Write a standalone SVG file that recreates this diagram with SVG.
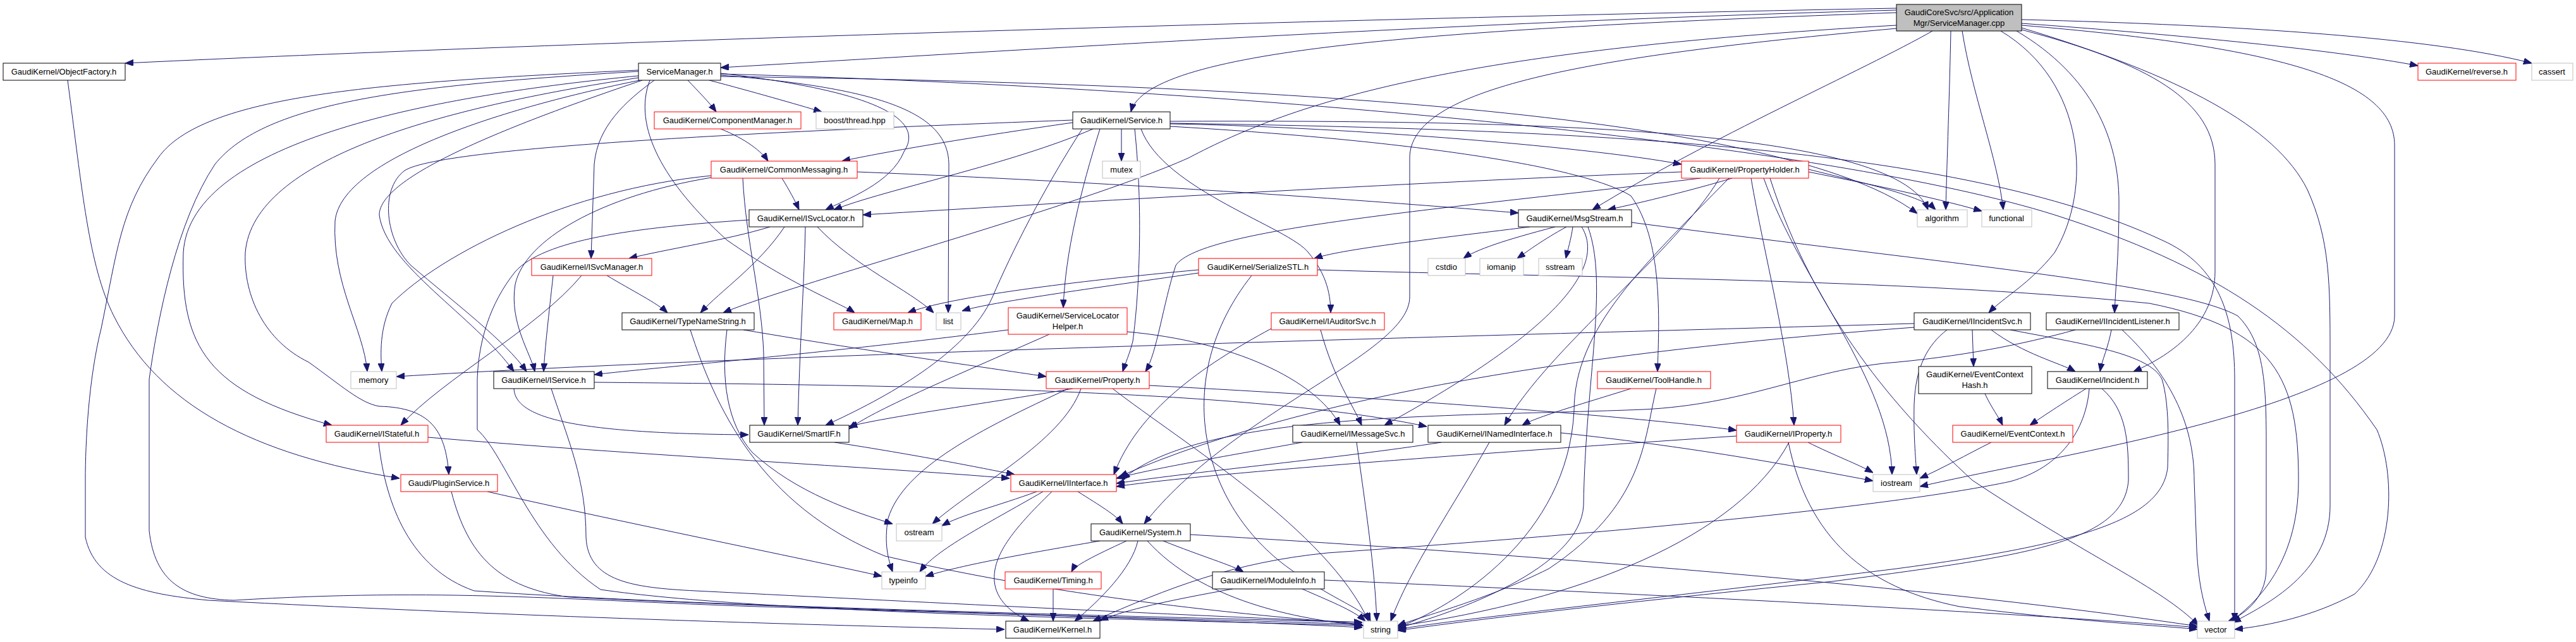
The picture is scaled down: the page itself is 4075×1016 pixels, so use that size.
<svg xmlns="http://www.w3.org/2000/svg" width="4075" height="1016" viewBox="0 0 4075 1016">
<style>
.e{fill:none;stroke:#191970;stroke-width:1;marker-end:url(#a)}
.b rect{fill:#fff;stroke:#000;stroke-width:1}
.r rect{fill:#fff;stroke:#ff0000;stroke-width:1}
.g rect{fill:#fff;stroke:#bfbfbf;stroke-width:1}
.m rect{fill:#bfbfbf;stroke:#000;stroke-width:1}
text{font-family:"Liberation Sans",Arial,sans-serif;font-size:13px;fill:#000;text-anchor:middle}
</style>
<defs>
<marker id="a" viewBox="0 0 13 10" refX="13" refY="5" markerWidth="13" markerHeight="10" markerUnits="userSpaceOnUse" orient="auto"><path d="M0,0 L13,5 L0,10 z" fill="#191970" stroke="#191970"/></marker>
</defs>
<rect width="4075" height="1016" fill="#fff"/>
<g id="edges">
<path class="e" d="M3000,13 C2200,28 1000,62 198,100"/>
<path class="e" d="M3000,16 C2300,35 1600,80 1140,107"/>
<path class="e" d="M3000,20 C2300,45 1815,75 1789,177"/>
<path class="e" d="M3057,49 C2950,110 2700,220 2519,332"/>
<path class="e" d="M3086,49 C3084,150 3080,250 3078,332"/>
<path class="e" d="M3104,49 C3120,150 3160,250 3169,332"/>
<path class="e" d="M3198,37 C3450,55 3700,80 3825,104"/>
<path class="e" d="M3198,31 C3550,40 3850,60 4005,100"/>
<path class="e" d="M3165,49 C3300,130 3310,300 3250,400 C3210,450 3170,470 3146,495"/>
<path class="e" d="M3190,49 C3310,120 3352,220 3352,320 C3352,400 3347,450 3345,495"/>
<path class="e" d="M3198,47 C3400,100 3504,160 3504,260 L3504,430 C3504,510 3440,560 3375,588"/>
<path class="e" d="M3198,40 C3620,75 3788,130 3788,230 L3788,500 C3788,640 3250,720 3037,770"/>
<path class="e" d="M3198,44 C3450,120 3600,200 3650,300 C3686,380 3686,450 3686,560 L3686,800 C3686,900 3600,950 3532,985"/>
<path class="e" d="M3000,45 C2500,90 2230,140 2230,250 L2230,470 C2230,560 1950,650 1810,829"/>
<path class="e" d="M3000,40 C2300,80 2050,160 1880,250 C1700,330 1250,450 1144,495"/>
<path class="e" d="M1088,127 C1105,145 1122,162 1133,177"/>
<path class="e" d="M1122,127 C1190,145 1260,165 1300,177"/>
<path class="e" d="M1035,127 C990,160 945,200 940,260 L935,409"/>
<path class="e" d="M1140,116 C1350,140 1470,180 1430,240 C1410,290 1340,315 1306,332"/>
<path class="e" d="M1028,127 C1000,200 1050,290 1150,380 C1250,450 1330,480 1352,495"/>
<path class="e" d="M1140,119 C1400,140 1500,180 1501,260 L1500,495"/>
<path class="e" d="M1140,121 C1800,130 2800,160 3033,338"/>
<path class="e" d="M1140,117 C2000,140 2900,230 3250,340 C3500,420 3650,520 3760,680 C3790,750 3788,880 3725,940 C3660,975 3590,990 3535,996"/>
<path class="e" d="M1010,120 C700,150 300,220 290,400 C285,550 330,620 525,673"/>
<path class="e" d="M1010,123 C700,170 400,250 388,400 C385,470 420,540 488,573 C540,610 570,638 600,643 C680,645 705,680 710,751"/>
<path class="e" d="M1012,127 C800,170 540,250 530,350 C525,450 575,520 581,588"/>
<path class="e" d="M1016,127 C800,200 600,280 600,340 C610,420 750,500 813,588"/>
<path class="e" d="M1010,111 C600,130 320,150 250,250 C190,330 185,400 160,520 C140,600 135,700 135,760 L135,850 C150,920 220,940 330,950 C800,975 1300,990 1589,996"/>
<path class="e" d="M1010,113 C650,135 420,160 340,260 C280,350 250,500 236,600 L236,840 C245,920 290,948 370,950 C700,930 900,950 1200,960 C1700,975 2000,985 2155,993"/>
<path class="e" d="M1140,204 C1180,220 1205,240 1215,255"/>
<path class="e" d="M1697,194 C1550,215 1400,240 1332,255"/>
<path class="e" d="M1774,204 L1774,255"/>
<path class="e" d="M1729,204 C1600,260 1400,300 1319,332"/>
<path class="e" d="M1851,196 C2100,200 2500,230 2660,260"/>
<path class="e" d="M1740,204 C1710,300 1685,400 1682,487"/>
<path class="e" d="M1805,204 C1840,300 2040,360 2070,400 C2095,430 2105,460 2105,495"/>
<path class="e" d="M1851,200 C2200,220 2500,260 2580,310 C2630,380 2625,500 2622,588"/>
<path class="e" d="M1795,204 C1810,350 1800,480 1792,540 C1787,560 1780,575 1776,588"/>
<path class="e" d="M1712,204 C1650,300 1600,400 1570,470 C1530,560 1400,630 1306,673"/>
<path class="e" d="M1851,192 C2400,190 3000,200 3050,332"/>
<path class="e" d="M1851,195 C2500,205 3100,230 3420,380 C3510,420 3535,500 3535,600 L3535,983"/>
<path class="e" d="M1697,190 C1300,205 700,230 640,270 C600,300 610,380 650,420 C720,480 800,540 833,588"/>
<path class="e" d="M1237,282 C1248,300 1258,318 1264,332"/>
<path class="e" d="M1356,272 C1800,290 2200,320 2402,337"/>
<path class="e" d="M1175,282 C1180,380 1205,470 1208,560 L1209,673"/>
<path class="e" d="M1125,278 C900,300 700,400 620,480 C600,520 602,560 604,588"/>
<path class="e" d="M1125,281 C950,310 830,380 815,450 C805,510 840,560 846,588"/>
<path class="e" d="M2740,282 C2680,300 2600,320 2543,332"/>
<path class="e" d="M2660,272 C2200,290 1700,320 1365,340"/>
<path class="e" d="M2861,268 C2950,290 3040,310 3062,332"/>
<path class="e" d="M2861,272 C2950,290 3050,310 3135,334"/>
<path class="e" d="M2690,282 C2300,330 1900,360 1860,420 C1840,480 1830,560 1812,588"/>
<path class="e" d="M2770,282 C2790,400 2830,550 2838,673"/>
<path class="e" d="M2720,282 C2650,400 2450,550 2380,673"/>
<path class="e" d="M2735,282 C2600,420 2490,520 2490,650 C2480,850 2300,960 2211,993"/>
<path class="e" d="M2800,282 C2870,500 3000,650 3120,760 C3300,880 3420,930 3478,990"/>
<path class="e" d="M2790,282 C2850,450 2990,600 2993,751"/>
<path class="e" d="M2420,359 C2250,380 2120,395 2079,409"/>
<path class="e" d="M2460,359 C2380,380 2335,395 2315,409"/>
<path class="e" d="M2478,359 C2440,380 2420,395 2400,409"/>
<path class="e" d="M2488,359 C2485,380 2480,395 2477,409"/>
<path class="e" d="M2502,359 C2540,420 2470,520 2190,673"/>
<path class="e" d="M2512,359 C2545,450 2508,600 2505,800 C2500,900 2300,970 2211,994"/>
<path class="e" d="M2581,352 C3100,420 3450,450 3540,500 C3580,540 3585,600 3585,700 L3585,900 C3585,950 3545,975 3525,983"/>
<path class="e" d="M1896,427 C1700,445 1500,470 1436,495"/>
<path class="e" d="M1896,432 C1700,460 1560,480 1522,492"/>
<path class="e" d="M2084,427 C2500,440 3000,440 3400,480 C3600,520 3636,600 3636,760 C3636,900 3560,960 3530,983"/>
<path class="e" d="M1980,436 C1850,600 1900,800 2040,900 C2110,950 2160,965 2168,983"/>
<path class="e" d="M2089,522 C2110,600 2140,640 2154,673"/>
<path class="e" d="M2011,520 C1900,580 1800,650 1762,751"/>
<path class="e" d="M3120,522 L3122,580"/>
<path class="e" d="M3150,522 C3200,560 3260,575 3283,588"/>
<path class="e" d="M3028,512 C2400,530 1200,560 627,596"/>
<path class="e" d="M3028,518 C2600,550 2100,610 1771,754"/>
<path class="e" d="M3180,522 C3300,545 3400,560 3420,600 C3432,640 3430,700 3429,740 C3420,820 3300,860 3000,900 C2600,950 2300,980 2211,996"/>
<path class="e" d="M3080,522 C3050,545 3030,580 3028,640 C3027,690 3030,720 3032,751"/>
<path class="e" d="M3340,522 C3335,550 3325,570 3322,588"/>
<path class="e" d="M3283,522 C3200,545 3100,565 2980,575 C2850,590 2760,640 2600,648 C2300,660 1900,650 1775,759"/>
<path class="e" d="M3357,522 C3440,600 3471,680 3471,760 L3475,870 C3478,930 3488,960 3495,983"/>
<path class="e" d="M3140,623 C3150,645 3162,660 3168,673"/>
<path class="e" d="M3300,615 C3260,640 3230,660 3211,673"/>
<path class="e" d="M3305,615 C3300,680 3260,740 3180,762 C3000,800 2600,840 2100,875 C1950,890 1850,930 1729,983"/>
<path class="e" d="M3325,615 C3365,650 3367,700 3367,760 C3360,860 3200,880 2900,920 C2500,960 2300,985 2211,998"/>
<path class="e" d="M3150,700 C3110,720 3075,740 3037,757"/>
<path class="e" d="M2580,615 C2500,640 2430,660 2408,673"/>
<path class="e" d="M2620,615 C2600,700 2600,800 2450,900 C2350,950 2250,975 2211,990"/>
<path class="e" d="M1697,615 C1550,640 1400,660 1343,675"/>
<path class="e" d="M1818,610 C2200,630 2600,660 2747,681"/>
<path class="e" d="M1690,615 C1550,680 1430,740 1405,820 C1398,860 1405,885 1412,905"/>
<path class="e" d="M1710,615 C1680,700 1540,770 1475,829"/>
<path class="e" d="M1760,615 C1870,700 2100,840 2165,983"/>
<path class="e" d="M1595,522 C1300,560 1000,585 940,593"/>
<path class="e" d="M1660,529 C1500,600 1380,650 1343,679"/>
<path class="e" d="M1783,525 C1950,540 2080,600 2120,673"/>
<path class="e" d="M920,436 C850,520 700,600 634,673"/>
<path class="e" d="M960,436 C1000,460 1040,480 1056,495"/>
<path class="e" d="M875,436 C868,500 862,550 860,588"/>
<path class="e" d="M1241,359 C1200,420 1140,460 1108,495"/>
<path class="e" d="M1293,359 C1350,420 1440,460 1477,495"/>
<path class="e" d="M1274,359 C1272,450 1265,550 1262,673"/>
<path class="e" d="M1218,359 C1150,380 1050,395 995,409"/>
<path class="e" d="M1185,348 C1000,360 860,380 815,430 C775,480 757,540 755,600 L755,680 C800,720 840,860 950,933 C1200,970 1800,980 2155,990"/>
<path class="e" d="M1150,522 C1140,600 1150,670 1190,716 C1260,780 1350,810 1412,829"/>
<path class="e" d="M1176,522 C1400,560 1550,580 1655,596"/>
<path class="e" d="M1092,522 C1130,640 1200,800 1400,880 C1700,950 2000,975 2155,988"/>
<path class="e" d="M677,692 C1000,720 1400,740 1597,757"/>
<path class="e" d="M599,700 C610,800 650,900 750,935 C1100,960 1800,975 2155,985"/>
<path class="e" d="M714,778 C740,880 790,930 900,945 C1300,965 1900,980 2155,988"/>
<path class="e" d="M771,778 C1000,830 1300,890 1395,912"/>
<path class="e" d="M107,127 C130,300 140,420 180,500 C250,640 400,720 632,757"/>
<path class="e" d="M940,605 C1500,610 2000,620 2257,675"/>
<path class="e" d="M872,615 C900,700 927,760 927,850 C930,920 1000,930 1100,935 C1500,955 1900,975 2155,985"/>
<path class="e" d="M813,615 C815,660 900,686 1184,688"/>
<path class="e" d="M1320,700 C1450,720 1550,740 1605,751"/>
<path class="e" d="M2060,700 C1950,720 1830,740 1766,757"/>
<path class="e" d="M2146,700 C2160,800 2175,900 2178,983"/>
<path class="e" d="M2280,700 C2120,725 1900,745 1766,765"/>
<path class="e" d="M2356,700 C2300,800 2230,900 2200,983"/>
<path class="e" d="M2469,685 C2700,710 2850,740 2963,761"/>
<path class="e" d="M2747,690 C2300,720 1900,750 1766,770"/>
<path class="e" d="M2830,700 C2750,850 2500,950 2211,991"/>
<path class="e" d="M2860,700 C2900,720 2940,735 2963,748"/>
<path class="e" d="M2829,700 C2860,850 2950,930 3100,960 C3300,985 3420,990 3476,996"/>
<path class="e" d="M1640,778 C1580,800 1520,815 1490,832"/>
<path class="e" d="M1650,778 C1560,830 1480,870 1455,905"/>
<path class="e" d="M1705,778 C1740,800 1765,815 1776,829"/>
<path class="e" d="M1664,778 C1600,840 1570,880 1573,920 C1576,950 1600,970 1628,983"/>
<path class="e" d="M1740,856 C1600,880 1520,895 1464,912"/>
<path class="e" d="M1782,856 C1730,880 1700,895 1695,905"/>
<path class="e" d="M1840,856 C1900,880 1950,895 1967,905"/>
<path class="e" d="M1800,856 C1790,900 1740,950 1700,983"/>
<path class="e" d="M1815,856 C1900,950 2050,980 2157,990"/>
<path class="e" d="M1883,846 C2300,870 3000,920 3476,991"/>
<path class="e" d="M1666,932 L1666,983"/>
<path class="e" d="M1950,932 C1850,950 1780,965 1740,982"/>
<path class="e" d="M2060,932 C2100,950 2140,965 2160,983"/>
<path class="e" d="M2095,918 C2600,940 3200,970 3476,993"/>
</g>
<g id="n_cpp" class="m"><rect x="3000" y="7" width="198" height="42"/><text x="3099" y="24">GaudiCoreSvc/src/Application</text><text x="3099" y="41">Mgr/ServiceManager.cpp</text></g>
<g id="n_objectfactory" class="b"><rect x="5" y="100" width="193" height="27"/><text x="101" y="118">GaudiKernel/ObjectFactory.h</text></g>
<g id="n_servicemanager_h" class="b"><rect x="1010" y="100" width="130" height="27"/><text x="1075" y="118">ServiceManager.h</text></g>
<g id="n_componentmanager" class="r"><rect x="1035" y="177" width="232" height="27"/><text x="1151" y="195">GaudiKernel/ComponentManager.h</text></g>
<g id="n_boost_thread" class="g"><rect x="1291" y="177" width="123" height="27"/><text x="1352" y="195">boost/thread.hpp</text></g>
<g id="n_service" class="b"><rect x="1697" y="177" width="154" height="27"/><text x="1774" y="195">GaudiKernel/Service.h</text></g>
<g id="n_commonmessaging" class="r"><rect x="1125" y="255" width="231" height="27"/><text x="1240" y="273">GaudiKernel/CommonMessaging.h</text></g>
<g id="n_mutex" class="g"><rect x="1744" y="255" width="60" height="27"/><text x="1774" y="273">mutex</text></g>
<g id="n_propertyholder" class="r"><rect x="2660" y="255" width="201" height="27"/><text x="2760" y="273">GaudiKernel/PropertyHolder.h</text></g>
<g id="n_isvclocator" class="b"><rect x="1185" y="332" width="180" height="27"/><text x="1275" y="350">GaudiKernel/ISvcLocator.h</text></g>
<g id="n_msgstream" class="b"><rect x="2402" y="332" width="179" height="27"/><text x="2491" y="350">GaudiKernel/MsgStream.h</text></g>
<g id="n_algorithm" class="g"><rect x="3033" y="332" width="79" height="27"/><text x="3072" y="350">algorithm</text></g>
<g id="n_functional" class="g"><rect x="3135" y="332" width="79" height="27"/><text x="3174" y="350">functional</text></g>
<g id="n_reverse" class="r"><rect x="3825" y="100" width="155" height="27"/><text x="3902" y="118">GaudiKernel/reverse.h</text></g>
<g id="n_cassert" class="g"><rect x="4005" y="100" width="65" height="27"/><text x="4037" y="118">cassert</text></g>
<g id="n_isvcmanager" class="r"><rect x="841" y="409" width="190" height="27"/><text x="936" y="427">GaudiKernel/ISvcManager.h</text></g>
<g id="n_serializestl" class="r"><rect x="1896" y="409" width="188" height="27"/><text x="1990" y="427">GaudiKernel/SerializeSTL.h</text></g>
<g id="n_cstdio" class="g"><rect x="2259" y="409" width="59" height="27"/><text x="2288" y="427">cstdio</text></g>
<g id="n_iomanip" class="g"><rect x="2341" y="409" width="69" height="27"/><text x="2375" y="427">iomanip</text></g>
<g id="n_sstream" class="g"><rect x="2434" y="409" width="69" height="27"/><text x="2468" y="427">sstream</text></g>
<g id="n_typenamestring" class="b"><rect x="984" y="495" width="209" height="27"/><text x="1088" y="513">GaudiKernel/TypeNameString.h</text></g>
<g id="n_map" class="r"><rect x="1319" y="495" width="138" height="27"/><text x="1388" y="513">GaudiKernel/Map.h</text></g>
<g id="n_list" class="g"><rect x="1481" y="495" width="39" height="27"/><text x="1500" y="513">list</text></g>
<g id="n_servicelocatorhelper" class="r"><rect x="1595" y="487" width="188" height="42"/><text x="1689" y="504">GaudiKernel/ServiceLocator</text><text x="1689" y="521">Helper.h</text></g>
<g id="n_iauditorsvc" class="r"><rect x="2011" y="495" width="179" height="27"/><text x="2100" y="513">GaudiKernel/IAuditorSvc.h</text></g>
<g id="n_iincidentsvc" class="b"><rect x="3028" y="495" width="184" height="27"/><text x="3120" y="513">GaudiKernel/IIncidentSvc.h</text></g>
<g id="n_iincidentlistener" class="b"><rect x="3237" y="495" width="210" height="27"/><text x="3342" y="513">GaudiKernel/IIncidentListener.h</text></g>
<g id="n_memory" class="g"><rect x="555" y="588" width="72" height="27"/><text x="591" y="606">memory</text></g>
<g id="n_iservice" class="b"><rect x="781" y="588" width="159" height="27"/><text x="860" y="606">GaudiKernel/IService.h</text></g>
<g id="n_property" class="r"><rect x="1655" y="588" width="163" height="27"/><text x="1736" y="606">GaudiKernel/Property.h</text></g>
<g id="n_toolhandle" class="r"><rect x="2527" y="588" width="179" height="27"/><text x="2616" y="606">GaudiKernel/ToolHandle.h</text></g>
<g id="n_eventcontexthash" class="b"><rect x="3035" y="580" width="179" height="43"/><text x="3124" y="597">GaudiKernel/EventContext</text><text x="3124" y="614">Hash.h</text></g>
<g id="n_incident" class="b"><rect x="3239" y="588" width="158" height="27"/><text x="3318" y="606">GaudiKernel/Incident.h</text></g>
<g id="n_istateful" class="r"><rect x="516" y="673" width="161" height="27"/><text x="596" y="691">GaudiKernel/IStateful.h</text></g>
<g id="n_smartif" class="b"><rect x="1186" y="673" width="157" height="27"/><text x="1264" y="691">GaudiKernel/SmartIF.h</text></g>
<g id="n_imessagesvc" class="b"><rect x="2045" y="673" width="190" height="27"/><text x="2140" y="691">GaudiKernel/IMessageSvc.h</text></g>
<g id="n_inamedinterface" class="b"><rect x="2259" y="673" width="210" height="27"/><text x="2364" y="691">GaudiKernel/INamedInterface.h</text></g>
<g id="n_iproperty" class="r"><rect x="2747" y="673" width="165" height="27"/><text x="2829" y="691">GaudiKernel/IProperty.h</text></g>
<g id="n_eventcontext" class="r"><rect x="3089" y="673" width="190" height="27"/><text x="3184" y="691">GaudiKernel/EventContext.h</text></g>
<g id="n_pluginservice" class="r"><rect x="634" y="751" width="153" height="27"/><text x="710" y="769">Gaudi/PluginService.h</text></g>
<g id="n_iinterface" class="r"><rect x="1599" y="751" width="167" height="27"/><text x="1682" y="769">GaudiKernel/IInterface.h</text></g>
<g id="n_iostream" class="g"><rect x="2963" y="751" width="74" height="27"/><text x="3000" y="769">iostream</text></g>
<g id="n_ostream" class="g"><rect x="1418" y="829" width="72" height="27"/><text x="1454" y="847">ostream</text></g>
<g id="n_system" class="b"><rect x="1726" y="829" width="157" height="27"/><text x="1804" y="847">GaudiKernel/System.h</text></g>
<g id="n_typeinfo" class="g"><rect x="1395" y="905" width="69" height="27"/><text x="1429" y="923">typeinfo</text></g>
<g id="n_timing" class="r"><rect x="1590" y="905" width="152" height="27"/><text x="1666" y="923">GaudiKernel/Timing.h</text></g>
<g id="n_moduleinfo" class="b"><rect x="1918" y="905" width="177" height="27"/><text x="2006" y="923">GaudiKernel/ModuleInfo.h</text></g>
<g id="n_kernel" class="b"><rect x="1591" y="983" width="149" height="27"/><text x="1665" y="1001">GaudiKernel/Kernel.h</text></g>
<g id="n_string" class="g"><rect x="2157" y="983" width="54" height="27"/><text x="2184" y="1001">string</text></g>
<g id="n_vector" class="g"><rect x="3476" y="983" width="59" height="27"/><text x="3505" y="1001">vector</text></g>
</svg>
